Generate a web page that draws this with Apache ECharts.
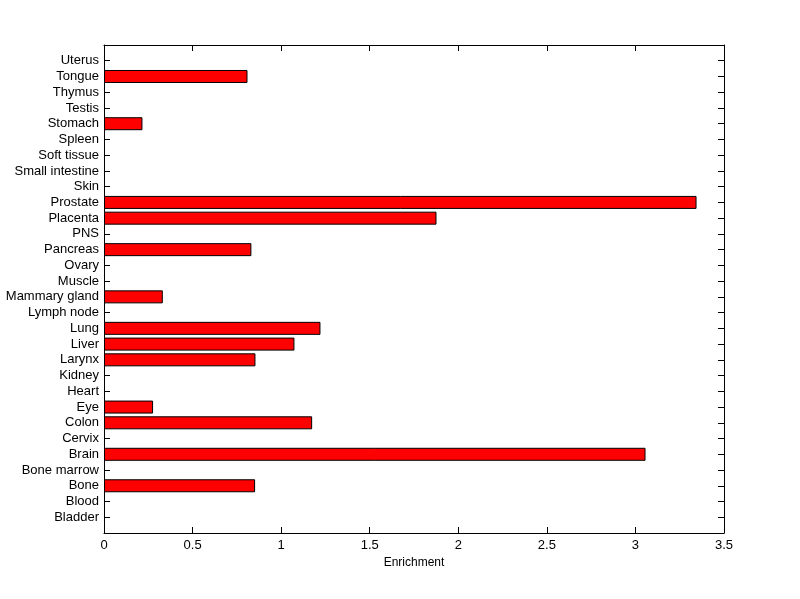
<!DOCTYPE html>
<html>
<head>
<meta charset="utf-8">
<script src="https://cdn.jsdelivr.net/npm/echarts@6/dist/echarts.min.js"></script>
<style>
  html, body { margin: 0; padding: 0; background: #fff; }
  #chart { width: 800px; height: 599px; }
</style>
</head>
<body>
<div id="chart"></div>
<script>
// tissue names, bottom to top
const tissues = ['Bladder', 'Blood', 'Bone', 'Bone marrow', 'Brain', 'Cervix', 'Colon', 'Eye',
  'Heart', 'Kidney', 'Larynx', 'Liver', 'Lung', 'Lymph node', 'Mammary gland', 'Muscle',
  'Ovary', 'Pancreas', 'PNS', 'Placenta', 'Prostate', 'Skin', 'Small intestine',
  'Soft tissue', 'Spleen', 'Stomach', 'Testis', 'Thymus', 'Tongue', 'Uterus']
// enrichment per tissue (0 = no bar)
const enrichment = [0, 0, 0.853, 0, 3.057, 0, 1.175, 0.277,
  0, 0, 0.855, 1.075, 1.222, 0, 0.332, 0,
  0, 0.832, 0, 1.877, 3.345, 0, 0,
  0, 0, 0.217, 0, 0, 0.81, 0]
const xTicks = { min: 0, max: 3.5, interval: 0.5 }

// pad one empty slot at each end, like the matlab axis limits
const cats = [''].concat(tissues, [''])
const vals = ['-'].concat(enrichment.map(v => (v > 0 ? v : '-')), ['-'])

const chart = echarts.init(document.getElementById('chart'))
const font = 'Liberation Sans, Arial, sans-serif'
function axisLine () {
  return { show: true, onZero: false, lineStyle: { color: '#000', width: 1 } }
}
function tick (extra) {
  return Object.assign({ show: true, inside: true, length: 6, lineStyle: { color: '#000', width: 1 } }, extra || {})
}

chart.setOption({
  animation: false,
  backgroundColor: '#fff',
  textStyle: { fontFamily: font },
  grid: { left: 104, right: 76, top: 45, bottom: 66, containLabel: false },
  xAxis: [
    {
      type: 'value',
      position: 'bottom',
      min: xTicks.min,
      max: xTicks.max,
      interval: xTicks.interval,
      name: 'Enrichment',
      nameLocation: 'middle',
      nameGap: 24,
      nameTextStyle: { color: '#000', fontSize: 12, fontFamily: font },
      axisLine: axisLine(),
      axisTick: tick(),
      splitLine: { show: false },
      axisLabel: { inside: false, color: '#000', fontSize: 13, margin: 6, fontFamily: font }
    },
    {
      type: 'value',
      position: 'top',
      min: xTicks.min,
      max: xTicks.max,
      interval: xTicks.interval,
      axisLine: axisLine(),
      axisTick: tick(),
      splitLine: { show: false },
      axisLabel: { show: false }
    }
  ],
  yAxis: [
    {
      type: 'category',
      position: 'left',
      data: cats,
      boundaryGap: false,
      axisLine: axisLine(),
      axisTick: tick({ interval: 0 }),
      splitLine: { show: false },
      axisLabel: { inside: false, interval: 0, color: '#000', fontSize: 13, margin: 5, fontFamily: font }
    },
    {
      type: 'category',
      position: 'right',
      data: cats,
      boundaryGap: false,
      axisLine: axisLine(),
      axisTick: tick({ interval: 0 }),
      splitLine: { show: false },
      axisLabel: { show: false }
    }
  ],
  series: [
    {
      type: 'bar',
      xAxisIndex: 0,
      yAxisIndex: 0,
      data: vals,
      barWidth: 13,
      itemStyle: { color: '#ff0000', borderColor: '#000', borderWidth: 1 }
    }
  ]
})
</script>
</body>
</html>
